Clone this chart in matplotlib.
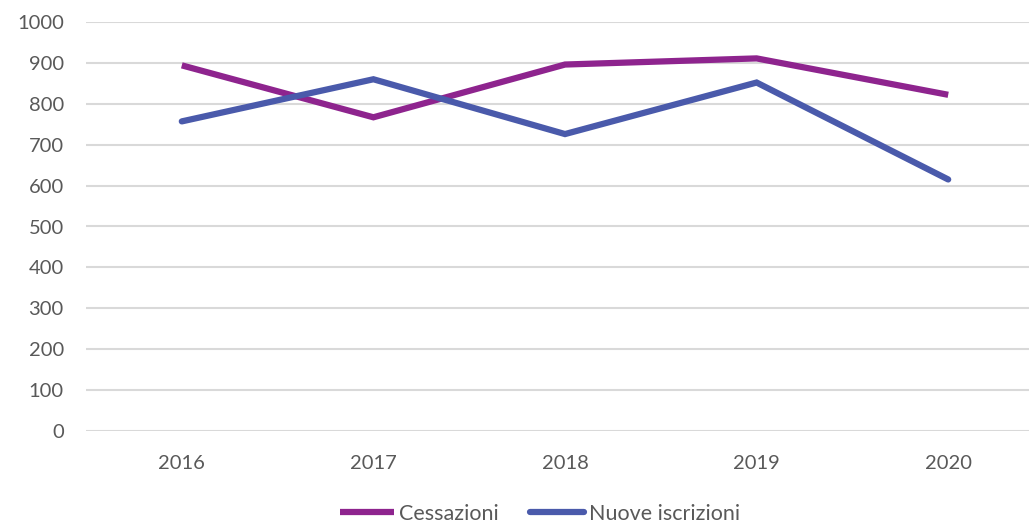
import matplotlib
matplotlib.use("Agg")
import matplotlib.pyplot as plt

years = ["2016", "2017", "2018", "2019", "2020"]
cessazioni = [894, 767, 896, 911, 822]
nuove_iscrizioni = [757, 860, 726, 852, 615]

plt.rcParams['font.family'] = ['Lato', 'DejaVu Sans']
text_color = "#595959"

fig = plt.figure(figsize=(10.29, 5.23), dpi=100)
ax = fig.add_axes([86/1029, 92/523, 958/1029, 409/523])

x = range(len(years))
ax.plot(x, cessazioni, color="#8E248E", lw=4.5, solid_capstyle="butt", solid_joinstyle="miter", label="Cessazioni")
ax.plot(x, nuove_iscrizioni, color="#4A5AAB", lw=4.5, solid_capstyle="round", solid_joinstyle="miter", label="Nuove iscrizioni")

ax.set_xlim(-0.5, len(years) - 0.5)
ax.set_ylim(0, 1000)
ax.set_yticks(range(0, 1001, 100))
ax.set_xticks(list(x))
ax.set_xticklabels(years)
ax.yaxis.grid(True, color="#D9D9D9", lw=1.5)
ax.set_axisbelow(True)
for s in ax.spines.values():
    s.set_visible(False)
ax.tick_params(axis="both", length=0, labelsize=14.5, colors=text_color)
ax.tick_params(axis="y", pad=16)
ax.tick_params(axis="x", pad=17)

leg = fig.legend(loc="center", bbox_to_anchor=(540/1029, 1 - 514/523), ncol=2, frameon=False,
                 fontsize=15.5, handlelength=2.5, handletextpad=0.25, columnspacing=1.45)
for t in leg.get_texts():
    t.set_color(text_color)

fig.savefig("out.png", dpi=100)
